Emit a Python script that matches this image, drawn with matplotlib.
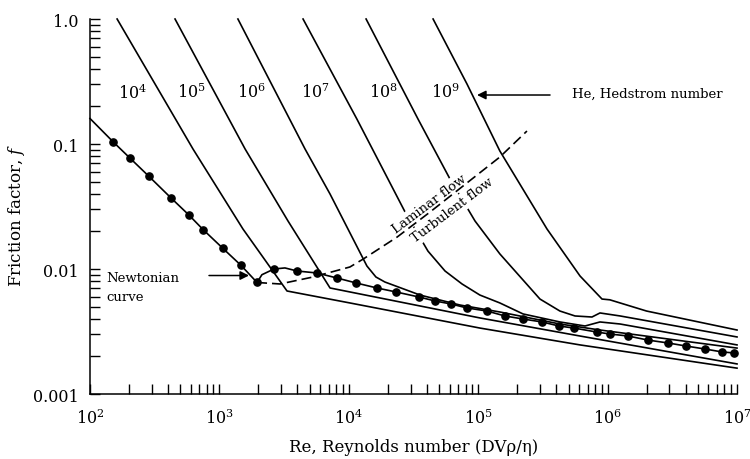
import matplotlib
matplotlib.use('Agg')
import matplotlib.pyplot as plt
from matplotlib.ticker import LogLocator, NullFormatter, FixedLocator, FixedFormatter

plt.rcParams['font.family'] = ['DejaVu Serif', 'DejaVu Sans']
plt.rcParams['mathtext.fontset'] = 'dejavuserif'

# ---------------- data ----------------
# Hedstrom-number curves
he_values = ['10^4', '10^5', '10^6', '10^7', '10^8', '10^9']

he4_re = [162, 625, 1520, 3330, 10200, 103000, 612000, 1.0e7]
he4_f = [1.0, 0.0912, 0.0209, 0.00667, 0.00535, 0.00337, 0.00247, 0.00161]

he5_re = [454, 1580, 3390, 7160, 103000, 612000, 1.0e7]
he5_f = [1.0, 0.0912, 0.0242, 0.00705, 0.00406, 0.00291, 0.00174]

he6_re = [1390, 4590, 7160, 13800, 16200, 19000, 35500, 72300, 147000, 428000, 873000, 1.0e7]
he6_f = [1.0, 0.0912, 0.0398, 0.01057, 0.00863, 0.00787, 0.00619, 0.00515, 0.00453, 0.00363, 0.00325, 0.00233]

he7_re = [4430, 11560, 27200, 40900, 55400, 75000, 103000, 147000, 222000, 428000, 669000, 873000, 1.25e6, 1.0e7]
he7_f = [1.0, 0.158, 0.0286, 0.0139, 0.00964, 0.00759, 0.00619, 0.00535, 0.00437, 0.00377, 0.00350, 0.00377, 0.00363, 0.00247]

he8_re = [13600, 34300, 60500, 94500, 147000, 300000, 428000, 560000, 757000, 873000, 1.25e6, 1.0e7]
he8_f = [1.0, 0.158, 0.0525, 0.0242, 0.0132, 0.00575, 0.00461, 0.00421, 0.00413, 0.00445, 0.00421, 0.00286]

he9_re = [44800, 81900, 147000, 340000, 612000, 905000, 1.04e6, 2.0e6, 1.0e7]
he9_f = [1.0, 0.302, 0.0879, 0.0209, 0.00879, 0.00575, 0.00567, 0.00461, 0.00325]

# Newtonian curve (line) and its dots
newt_line_re = [100, 151, 204, 286, 423, 582, 747, 1066, 1468, 1954, 2130, 2640, 3210, 3980,
                5680, 8110, 11400, 16500, 23200, 34900, 46400, 61600, 81900, 117000, 161000,
                222000, 311000, 421000, 549000, 827000, 1.04e6, 1.44e6, 2.05e6, 2.93e6, 4.04e6,
                5.66e6, 7.66e6, 9.48e6]
newt_line_f = [0.16, 0.104, 0.077, 0.055, 0.037, 0.027, 0.0207, 0.0146, 0.0107, 0.0078, 0.0090,
               0.0100, 0.0102, 0.00964, 0.00929, 0.00847, 0.00773, 0.00705, 0.00655, 0.00597,
               0.00555, 0.00525, 0.00488, 0.00461, 0.00421, 0.00398, 0.00377, 0.00350, 0.00337,
               0.00313, 0.00302, 0.00291, 0.00270, 0.00256, 0.00242, 0.00229, 0.00217, 0.00213]

newt_dot_re = [151, 204, 286, 423, 582, 747, 1066, 1468, 1954, 2640, 3980, 5680, 8110, 11400,
               16500, 23200, 34900, 46400, 61600, 81900, 117000, 161000, 222000, 311000, 421000,
               549000, 827000, 1.04e6, 1.44e6, 2.05e6, 2.93e6, 4.04e6, 5.66e6, 7.66e6, 9.48e6]
newt_dot_f = [0.104, 0.077, 0.055, 0.037, 0.027, 0.0207, 0.0146, 0.0107, 0.0078, 0.0100, 0.00964,
              0.00929, 0.00847, 0.00773, 0.00705, 0.00655, 0.00597, 0.00555, 0.00525, 0.00488,
              0.00461, 0.00421, 0.00398, 0.00377, 0.00350, 0.00337, 0.00313, 0.00302, 0.00291,
              0.00270, 0.00256, 0.00242, 0.00229, 0.00217, 0.00213]

# Laminar / turbulent transition locus (dashed)
trans_re = [1954, 2940, 5290, 10200, 12900, 23600, 42500, 76300, 147000, 238000]
trans_f = [0.0078, 0.00759, 0.00863, 0.01038, 0.0120, 0.0180, 0.0286, 0.0461, 0.0787, 0.127]

y_ticks = [1.0, 0.1, 0.01, 0.001]
y_tick_labels = ['1.0', '0.1', '0.01', '0.001']

# ---------------- figure ----------------
fig = plt.figure(figsize=(7.5, 4.6), dpi=100)
ax = fig.add_axes([0.12, 0.1413, 0.8627, 0.8152])
ax.set_xscale('log')
ax.set_yscale('log')
ax.set_xlim(1e2, 1e7)
ax.set_ylim(1e-3, 1.0)

lw = 1.2
for re, f in [(he4_re, he4_f), (he5_re, he5_f), (he6_re, he6_f),
              (he7_re, he7_f), (he8_re, he8_f), (he9_re, he9_f)]:
    ax.plot(re, f, color='black', lw=lw, clip_on=False, solid_joinstyle='round', zorder=2)

ax.plot(newt_line_re, newt_line_f, color='black', lw=lw, clip_on=False, zorder=2)
ax.plot(newt_dot_re, newt_dot_f, 'o', color='black', ms=5.2, clip_on=False, zorder=2)
ax.plot(trans_re, trans_f, color='black', lw=lw, dashes=(6, 3), zorder=5)

# He labels
label_xfrac = [0.065, 0.156, 0.249, 0.349, 0.454, 0.549]
for lab, xf in zip(he_values, label_xfrac):
    ax.text(xf, 0.805, '$' + lab + '$', transform=ax.transAxes, ha='center', va='center',
            fontsize=11.5)

# He arrow
ax.annotate('', xy=(97900, 0.2466), xytext=(359000, 0.2466),
            arrowprops=dict(arrowstyle='-|>', color='black', lw=1.1, mutation_scale=13,
                            shrinkA=0, shrinkB=0))
ax.text(531000, 0.2564, 'He, Hedstrom number', ha='left', va='center', fontsize=9.5)

# Newtonian arrow
ax.annotate('', xy=(1694, 0.00887), xytext=(831, 0.00887),
            arrowprops=dict(arrowstyle='-|>', color='black', lw=1.1, mutation_scale=13,
                            shrinkA=0, shrinkB=0))
ax.text(133, 0.00863, 'Newtonian', ha='left', va='center', fontsize=9.5)
ax.text(133, 0.0060, 'curve', ha='left', va='center', fontsize=9.5)

# Laminar / Turbulent text (white background breaks the curves, as in the reference)
box = dict(facecolor='white', edgecolor='none', pad=1.5)
ax.text(0.5314, 0.4936, 'Laminar flow', transform=ax.transAxes, ha='center', va='bottom',
        rotation=37, rotation_mode='anchor', fontsize=9.5, bbox=box, zorder=4)
ax.text(0.5540, 0.5050, 'Turbulent flow', transform=ax.transAxes, ha='center', va='top',
        rotation=37, rotation_mode='anchor', fontsize=9.5, bbox=box, zorder=4)

# axes styling
for s in ['top', 'right']:
    ax.spines[s].set_visible(False)
for s in ['left', 'bottom']:
    ax.spines[s].set_linewidth(1.1)

ax.xaxis.set_major_locator(LogLocator(base=10, numticks=10))
ax.xaxis.set_minor_locator(LogLocator(base=10, subs=range(2, 10), numticks=100))
ax.xaxis.set_minor_formatter(NullFormatter())
ax.yaxis.set_major_locator(FixedLocator(y_ticks))
ax.yaxis.set_major_formatter(FixedFormatter(y_tick_labels))
ax.yaxis.set_minor_locator(LogLocator(base=10, subs=range(2, 10), numticks=100))
ax.yaxis.set_minor_formatter(NullFormatter())

ax.tick_params(which='both', direction='in', length=7, width=1.0)
ax.tick_params(axis='x', which='major', labelsize=11.5, pad=10)
ax.tick_params(axis='y', which='major', labelsize=11.5, pad=8)

ax.set_xlabel(r'Re, Reynolds number (DVρ/η)', fontsize=12, labelpad=8)
ax.set_ylabel(r'Friction factor, $f$', fontsize=12)
ax.yaxis.set_label_coords(-0.097, 0.48)

fig.savefig('out.png', dpi=100)
